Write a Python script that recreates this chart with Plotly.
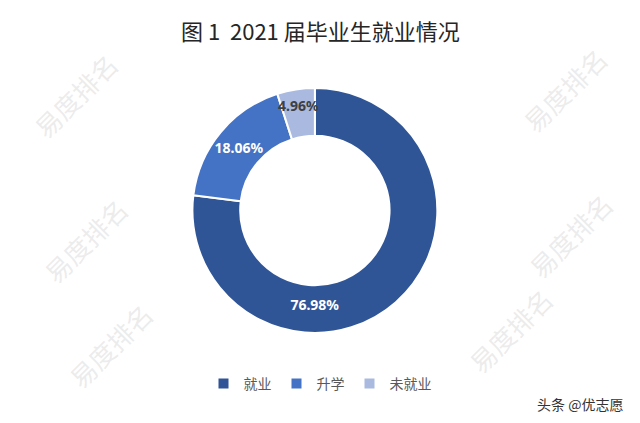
import plotly.graph_objects as go

categories = ["就业", "升学", "未就业"]
values = [76.98, 18.06, 4.96]
label_texts = ["76.98%", "18.06%", "4.96%"]
colors = ["#2F5597", "#4472C4", "#A9B9DF"]
text_colors = ["#FFFFFF", "#FFFFFF", "#404040"]

fig = go.Figure()
fig.add_trace(go.Pie(
    labels=categories,
    values=values,
    text=label_texts,
    textinfo="text",
    textposition="inside",
    insidetextorientation="horizontal",
    textfont=dict(color=text_colors, size=14, family="Noto Sans, Arial", weight="bold"),
    marker=dict(colors=colors, line=dict(color="white", width=2)),
    hole=0.61,
    sort=False,
    direction="clockwise",
    rotation=0,
    domain=dict(x=[0.3, 0.684], y=[0.213, 0.792]),
))

annotations = [
    dict(text="图 1  2021 届毕业生就业情况", x=0.5, y=1 - 30 / 423, xref="paper", yref="paper",
         showarrow=False, font=dict(size=22, color="#262626", family="Noto Sans CJK SC"),
         xanchor="center", yanchor="middle"),
    dict(text="头条 @优志愿", x=1 - 15 / 640, y=1 - 404 / 423, xref="paper", yref="paper",
         showarrow=False, font=dict(size=14, color="#333333", family="Noto Sans CJK SC"),
         xanchor="right", yanchor="middle"),
]

# faint watermark
wm_positions = [(75, 95), (565, 90), (85, 240), (570, 235), (510, 330), (110, 345)]
for (wx, wy) in wm_positions:
    annotations.append(dict(text="易度排名", x=wx / 640, y=1 - wy / 423, xref="paper", yref="paper",
                            showarrow=False, textangle=-45,
                            font=dict(size=26, color="rgba(200,200,200,0.35)", family="Noto Sans CJK SC"),
                            xanchor="center", yanchor="middle"))

fig.update_layout(
    width=640, height=423,
    margin=dict(l=0, r=0, t=0, b=0),
    paper_bgcolor="white",
    plot_bgcolor="white",
    showlegend=True,
    uniformtext=dict(minsize=14, mode="show"),
    legend=dict(orientation="h", x=0.5, xanchor="center", y=1 - 384 / 423, yanchor="middle",
                font=dict(size=14, color="#595959", family="Noto Sans CJK SC"),
                itemwidth=30, traceorder="normal"),
    annotations=annotations,
)

fig.write_html("out.html")
